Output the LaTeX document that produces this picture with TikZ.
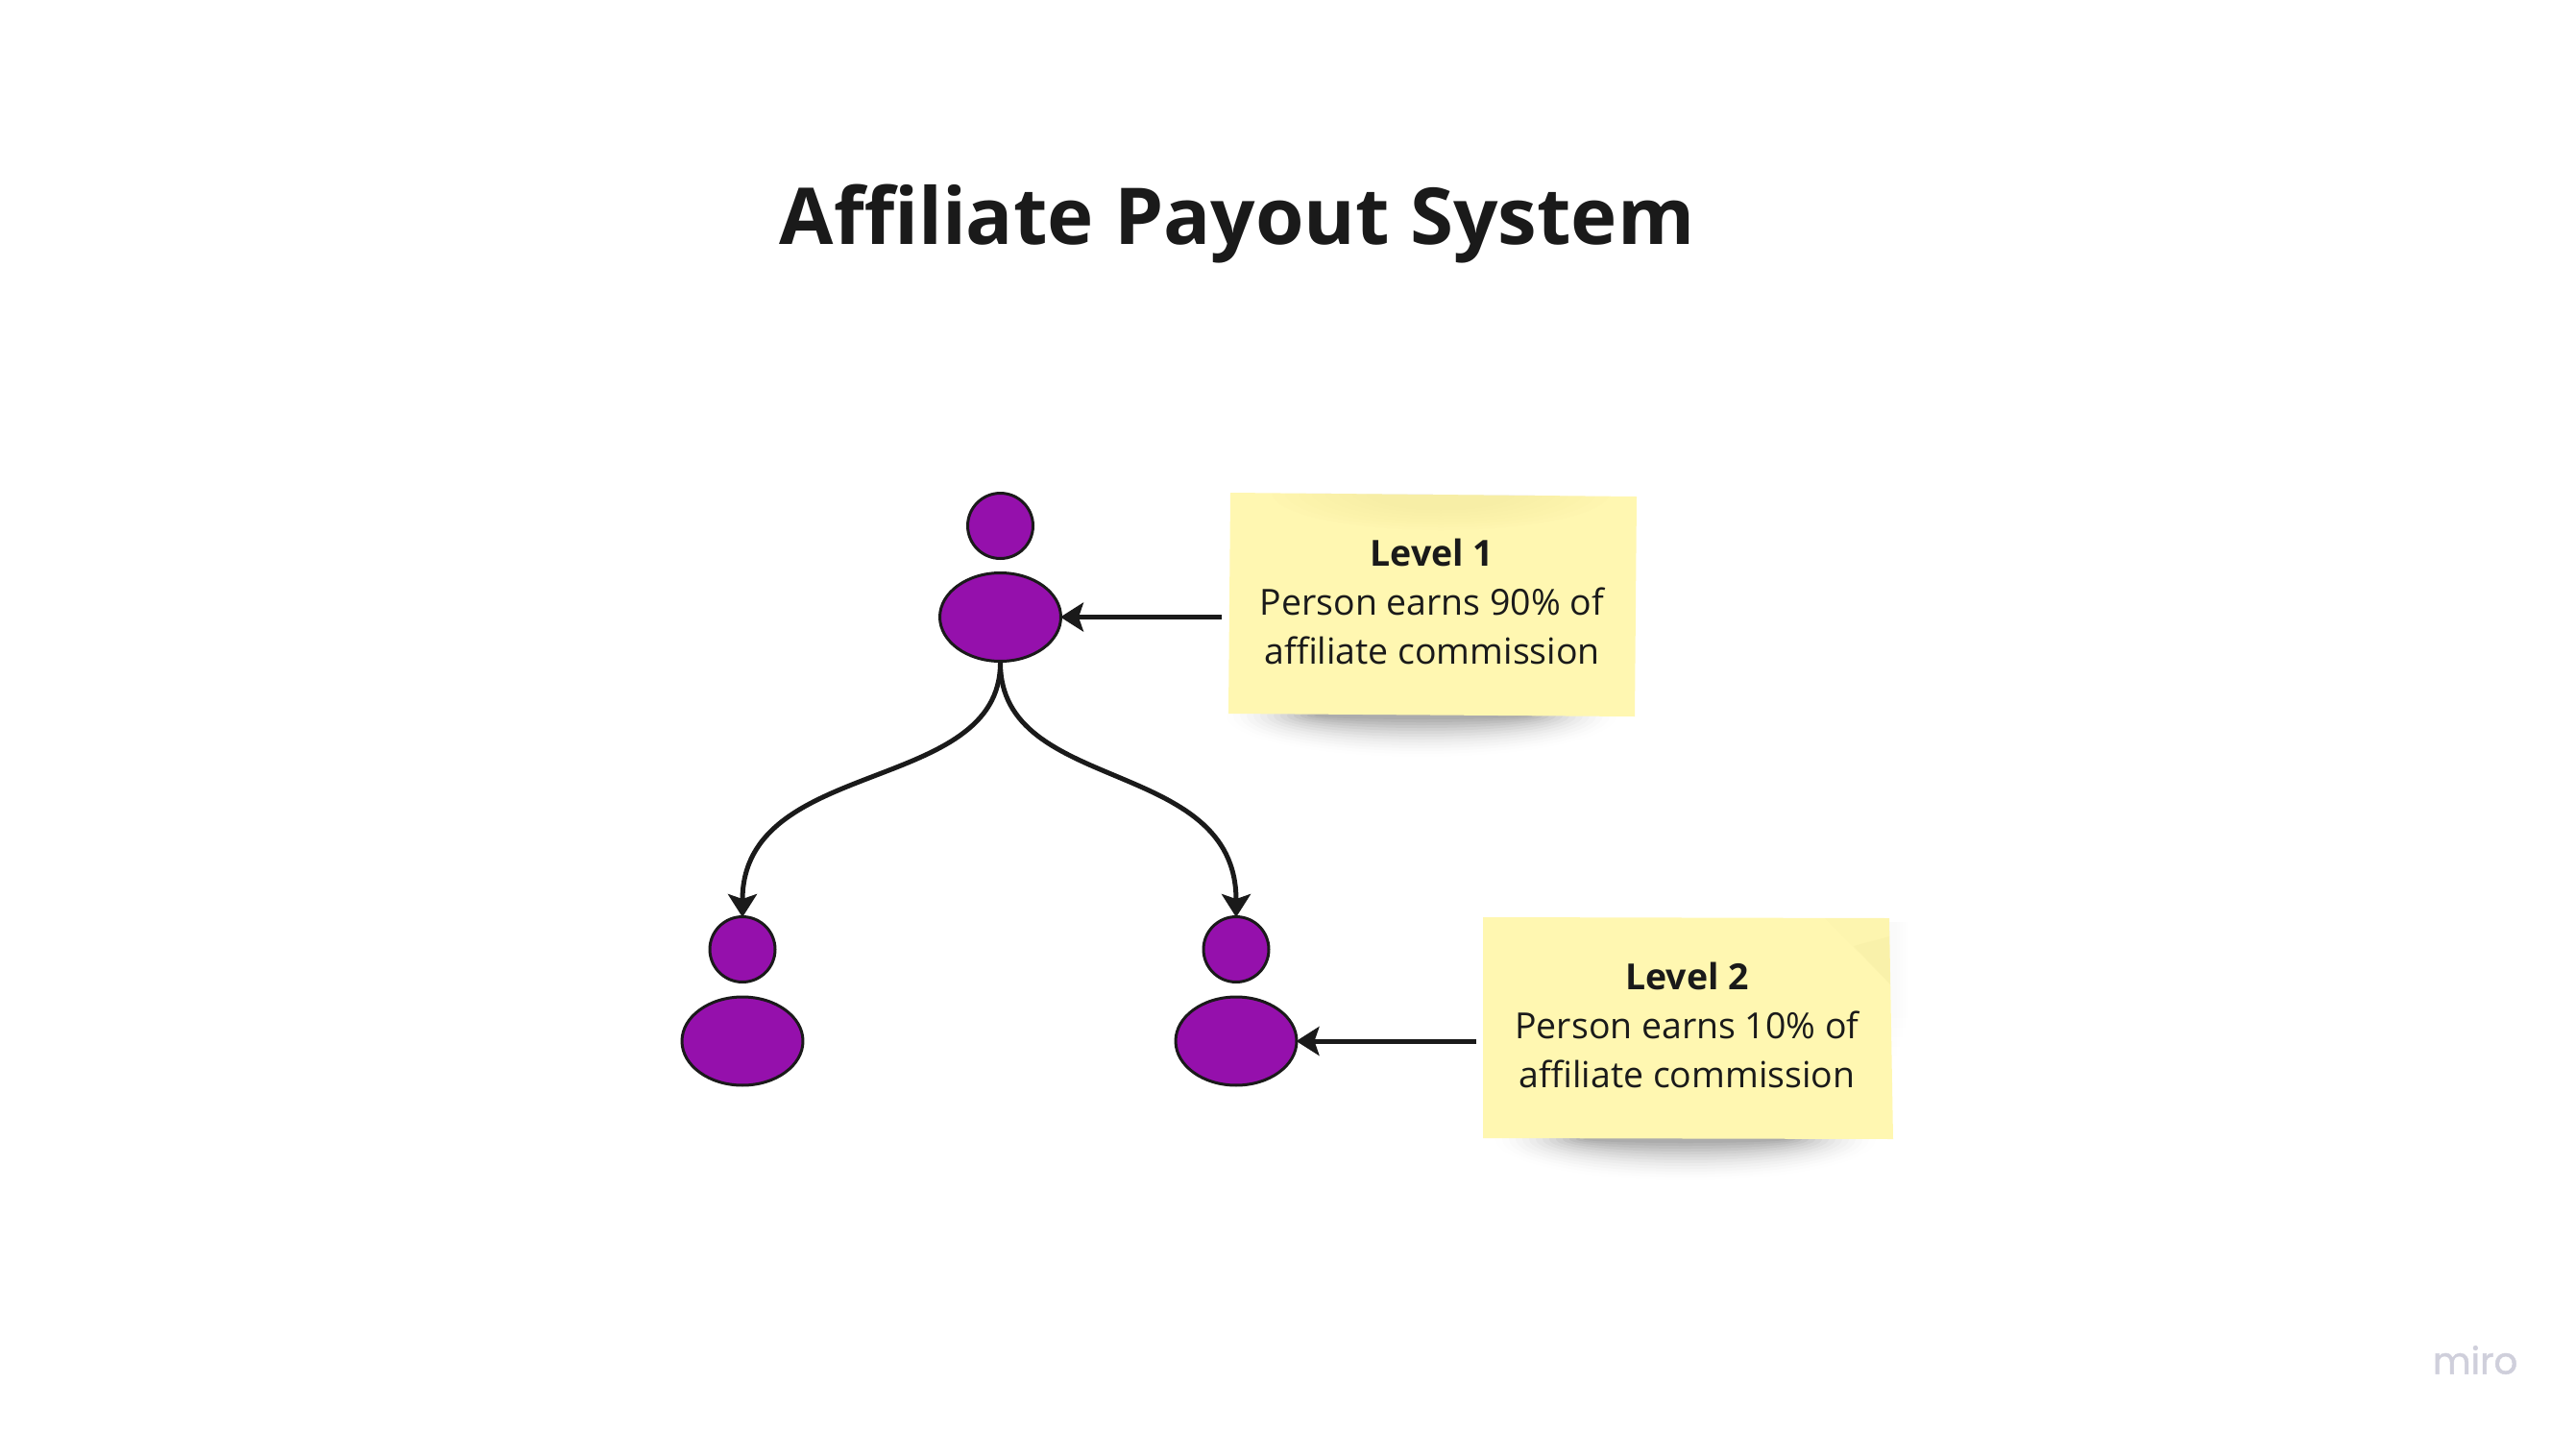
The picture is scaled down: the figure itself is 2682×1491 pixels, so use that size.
\documentclass[tikz,border=0pt]{standalone}
\usepackage{fontspec}
\setmainfont{Open Sans}
\newfontfamily\mirofont[FakeBold=1.2]{Poppins}
\usetikzlibrary{shapes.geometric,arrows.meta}
\definecolor{ink}{HTML}{1A1A1A}
\definecolor{purp}{HTML}{9510AC}
\definecolor{sticky}{HTML}{FFF7B1}
\definecolor{foldc}{HTML}{E6D98F}
\definecolor{mirogrey}{HTML}{CFCFDB}
\tikzset{
  x=0.02cm,y=-0.02cm,
  head/.style={ellipse,draw=ink,line width=0.06cm,fill=purp,minimum width=1.36cm,minimum height=1.36cm,inner sep=0},
  torso/.style={ellipse,draw=ink,line width=0.06cm,fill=purp,minimum width=2.52cm,minimum height=1.84cm,inner sep=0},
  link/.style={draw=ink,line width=0.1cm,shorten >=-0.04cm,-{Stealth[length=0.48cm,width=0.6cm,inset=0.1cm]}},
  note/.style={text=ink,align=center,inner sep=0,font=\fontsize{21.3}{28.9}\selectfont},
}
\begin{document}
\begin{tikzpicture}
\useasboundingbox[fill=white] (0,0) rectangle (2682,1491);

\node[text=ink,inner sep=0,anchor=base,font=\fontsize{46.5}{56}\selectfont\bfseries] (title) at (1288,254) {Affiliate Payout System};

% shadows
\foreach \i in {1,...,14}{
  \fill[black,opacity=0.0035*\i] (1480,745) ellipse ({210-7*\i} and {46-3*\i});
  \fill[black,opacity=0.0035*\i] (1755,1186) ellipse ({205-7*\i} and {46-3*\i});
}
\foreach \i in {1,...,5}{
  \fill[black,opacity=0.005] (1965,960) rectangle ({1972+3*\i},{1110-10*\i});
}

% sticky notes
\fill[sticky] (1281,513) -- (1704,517) -- (1702,746) -- (1279,743) -- cycle;
\fill[sticky] (1544,955) -- (1967,956) -- (1971,1186) -- (1544,1185) -- cycle;
\begin{scope}
  \clip (1281,513) -- (1704,517) -- (1702,746) -- (1279,743) -- cycle;
  \foreach \i in {1,...,8}{
    \fill[foldc,opacity=0.035] (1500,513) ellipse ({190-14*\i} and {42-3*\i});
  }
\end{scope}
\fill[foldc,opacity=0.06] (1900,956) -- (1967,956) -- (1968,1025) -- cycle;
\fill[foldc,opacity=0.14] (1930,985) -- (1967,975) -- (1968,1025) -- cycle;

% people
\node[head]  (top head)   at (1041.5,547.5) {};
\node[torso] (top body)   at (1041.5,642.5) {};
\node[head]  (left head)  at (773,988.5) {};
\node[torso] (left body)  at (773,1084) {};
\node[head]  (right head) at (1287,988.5) {};
\node[torso] (right body) at (1287,1084) {};

% notes
\node[note] (level one) at (1491,626.5) {{\bfseries Level 1}\\Person earns 90\% of\\affiliate commission};
\node[note] (level two) at (1756.5,1067.5) {{\bfseries Level 2}\\Person earns 10\% of\\affiliate commission};

\coordinate (from one) at (1272,642.5);
\coordinate (from two) at (1537,1084);
\draw[link] (from one) -- (top body.east);
\draw[link] (from two) -- (right body.east);
\draw[link] (top body.south) .. controls (1041.5,828) and (773,787) .. (left head.north);
\draw[link] (top body.south) .. controls (1041.5,828) and (1287,787) .. (right head.north);

\node[text=mirogrey,inner sep=0,font=\mirofont\fontsize{22}{26}\selectfont] (miro) at (2577,1416) {miro};
\end{tikzpicture}
\end{document}
